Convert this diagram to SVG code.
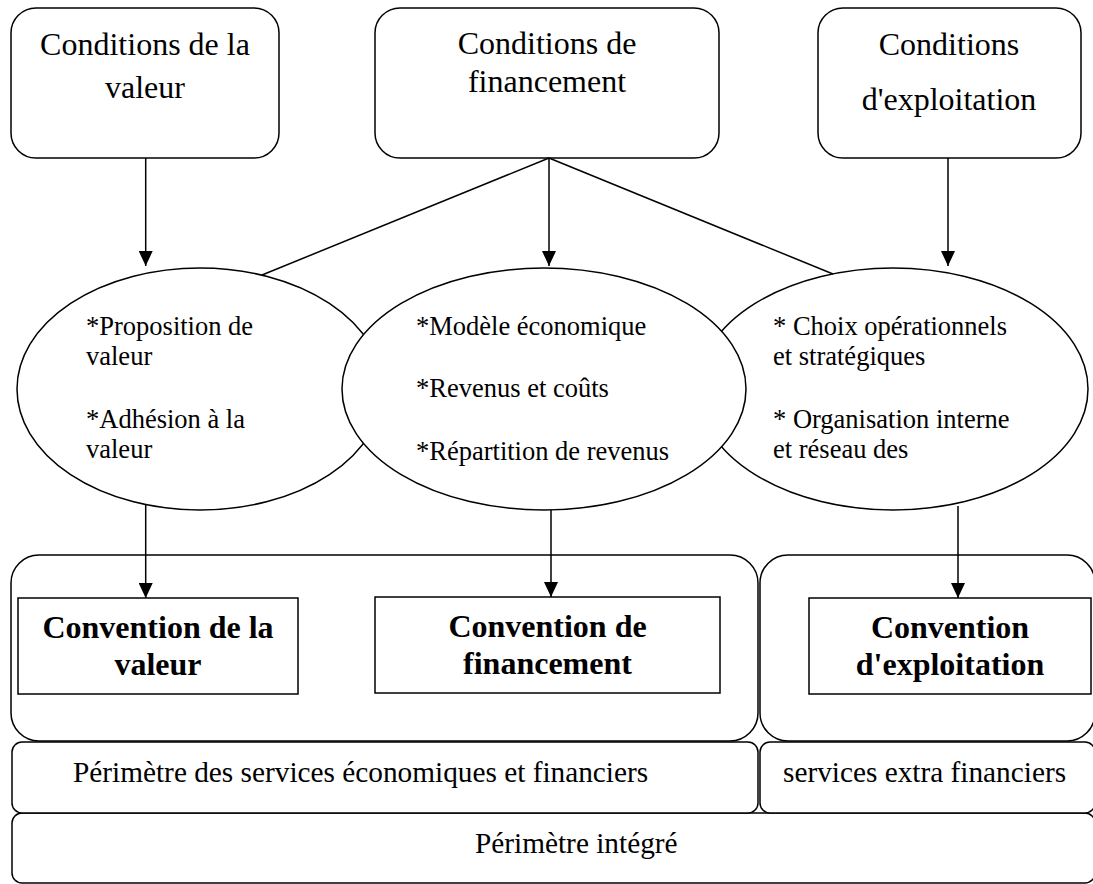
<svg xmlns="http://www.w3.org/2000/svg" width="1093" height="884" viewBox="0 0 1093 884">
<style>
.shape{fill:#fff;stroke:#000;stroke-width:1.5}
.t{font-family:"Liberation Serif","Times New Roman",serif;fill:#000}
.h{font-size:32px;text-anchor:middle}
.b{font-size:32px;font-weight:bold;text-anchor:middle}
.e{font-size:26.5px}
.p{font-size:29.3px}
.ln{stroke:#000;stroke-width:1.5;fill:none}
</style>
<defs>
<marker id="arr" viewBox="0 0 15 14" refX="15" refY="7" markerWidth="15" markerHeight="14" markerUnits="userSpaceOnUse" orient="auto">
<path d="M0,0 L15,7 L0,14 Z" fill="#000"/>
</marker>
</defs>
<rect width="1093" height="884" fill="#fff"/>

<g id="perimetre-integre">
<rect class="shape" x="12" y="813" width="1083" height="70" rx="10"/>
<text class="t p" x="475" y="853">Périmètre intégré</text>
</g>
<g id="perimetre-services">
<rect class="shape" x="12" y="742" width="746" height="71" rx="10"/>
<text class="t p" x="73" y="782">Périmètre des services économiques et financiers</text>
</g>
<g id="services-extra">
<rect class="shape" x="760" y="742" width="335" height="71" rx="10"/>
<text class="t p" x="783" y="782">services extra financiers</text>
</g>
<g id="group-left">
<rect class="shape" x="11" y="555" width="747" height="186" rx="28"/>
</g>
<g id="group-right">
<rect class="shape" x="760" y="555" width="335" height="186" rx="28"/>
</g>

<g id="cond-valeur">
<rect class="shape" x="11" y="8" width="268" height="150" rx="25"/>
<text class="t h" x="145" y="55">Conditions de la</text>
<text class="t h" x="145" y="98">valeur</text>
</g>
<g id="cond-financement">
<rect class="shape" x="375" y="8" width="344" height="150" rx="25"/>
<text class="t h" x="547" y="54">Conditions de</text>
<text class="t h" x="547" y="92">financement</text>
</g>
<g id="cond-exploitation">
<rect class="shape" x="818" y="8" width="263" height="150" rx="25"/>
<text class="t h" x="949" y="55">Conditions</text>
<text class="t h" x="949" y="110">d'exploitation</text>
</g>

<g id="ell-valeur">
<ellipse class="shape" cx="200" cy="389" rx="183" ry="121"/>
<text class="t e" x="86" y="335">*Proposition de</text>
<text class="t e" x="86" y="365">valeur</text>
<text class="t e" x="86" y="428">*Adhésion à la</text>
<text class="t e" x="86" y="458">valeur</text>
</g>
<g id="ell-exploitation">
<ellipse class="shape" cx="893" cy="389" rx="195" ry="121"/>
<text class="t e" x="773" y="335">* Choix opérationnels</text>
<text class="t e" x="773" y="365">et stratégiques</text>
<text class="t e" x="773" y="428">* Organisation interne</text>
<text class="t e" x="773" y="458">et réseau des</text>
</g>
<g id="ell-financement">
<ellipse class="shape" cx="544" cy="389" rx="202" ry="121"/>
<text class="t e" x="416" y="335">*Modèle économique</text>
<text class="t e" x="416" y="397">*Revenus et coûts</text>
<text class="t e" x="416" y="460">*Répartition de revenus</text>
</g>

<g id="conv-valeur">
<rect class="shape" x="18" y="598" width="280" height="96"/>
<text class="t b" x="158" y="638">Convention de la</text>
<text class="t b" x="158" y="675">valeur</text>
</g>
<g id="conv-financement">
<rect class="shape" x="375" y="597" width="345" height="96"/>
<text class="t b" x="547.5" y="637">Convention de</text>
<text class="t b" x="547.5" y="674">financement</text>
</g>
<g id="conv-exploitation">
<rect class="shape" x="809" y="598" width="282" height="96"/>
<text class="t b" x="950" y="638">Convention</text>
<text class="t b" x="950" y="675">d'exploitation</text>
</g>

<g id="connectors">
<line class="ln" x1="145.7" y1="158" x2="145.7" y2="266" marker-end="url(#arr)"/>
<line class="ln" x1="549" y1="158" x2="549" y2="266" marker-end="url(#arr)"/>
<line class="ln" x1="948" y1="158" x2="948" y2="266" marker-end="url(#arr)"/>
<line class="ln" x1="549" y1="158" x2="262" y2="275"/>
<line class="ln" x1="549" y1="158" x2="833" y2="274"/>
<line class="ln" x1="145.7" y1="505" x2="145.7" y2="598" marker-end="url(#arr)"/>
<line class="ln" x1="551" y1="510" x2="551" y2="597" marker-end="url(#arr)"/>
<line class="ln" x1="958" y1="506" x2="958" y2="598" marker-end="url(#arr)"/>
</g>
</svg>
